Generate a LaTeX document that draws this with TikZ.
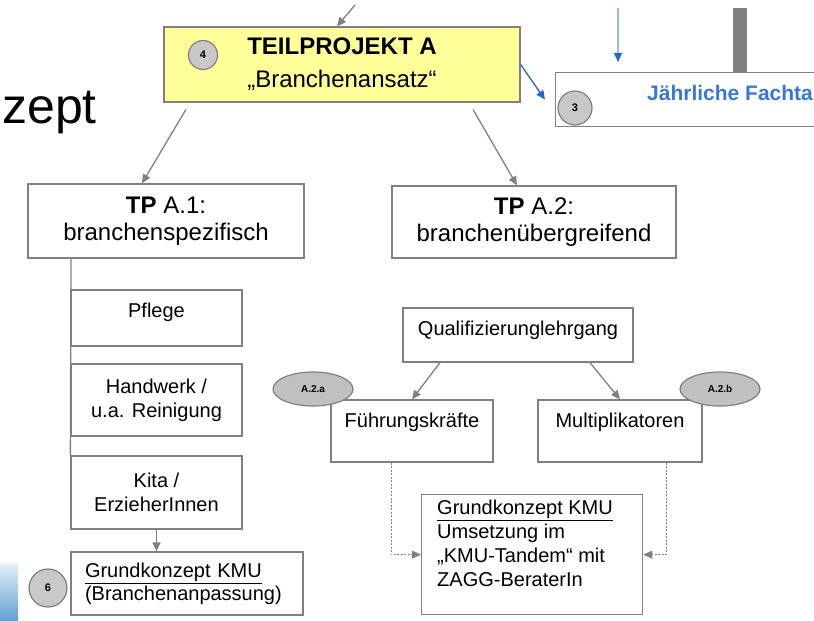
\documentclass[tikz,border=0pt]{standalone}
\usepackage{fontspec}
\setmainfont{Liberation Sans}
\usepackage{tikz}
\usetikzlibrary{arrows.meta,shapes.geometric}
\definecolor{boxgray}{RGB}{128,128,128}
\definecolor{tagfill}{RGB}{192,192,192}
\definecolor{numfill}{RGB}{200,200,200}
\definecolor{tpyellow}{RGB}{255,255,153}
\definecolor{linkblue}{RGB}{30,105,205}
\definecolor{titleblue}{RGB}{55,120,215}
\definecolor{edgeblue}{RGB}{95,160,210}

\begin{document}
\begin{tikzpicture}[
    x=1pt, y=-1pt,
    box/.style={draw=boxgray, line width=1.3pt, rectangle, inner sep=0pt,
      align=center, font=\fontsize{20}{24}\selectfont},
    bigbox/.style={box, font=\fontsize{24}{27}\selectfont},
    toptext/.style={text height=14pt, text depth=#1},
    num/.style={circle, draw=boxgray, line width=1.2pt, fill=numfill,
      inner sep=0pt, font=\bfseries\fontsize{11}{11}\selectfont},
    tag/.style={ellipse, draw=boxgray, line width=1.2pt, fill=tagfill,
      inner sep=0pt, minimum width=80pt, minimum height=34pt,
      font=\bfseries\fontsize{10}{10}\selectfont},
    arr/.style={draw=boxgray, line width=1.3pt, ->, >={Triangle[length=9pt,width=8pt]}},
    bluearr/.style={draw=linkblue, line width=1.3pt, ->, >={Triangle[length=9pt,width=8pt,color=linkblue]}},
    dots/.style={draw=boxgray, line width=0.9pt, dash pattern=on 2pt off 1.5pt,
      ->, >={Triangle[length=9pt,width=8pt]}}
    ]
\useasboundingbox (0,0) rectangle (814,621);
\clip (0,0) rectangle (814,621);

% left border decoration
\shade[top color=edgeblue!15, bottom color=edgeblue] (0,563) rectangle (18,621);
\node[anchor=base west, inner sep=0pt, font=\fontsize{50}{50}\selectfont] (zept) at (2,123) {zept};

% Teilprojekt A
\node[box, fill=tpyellow, minimum width=356pt, minimum height=75pt,
  font=\fontsize{24}{33}\selectfont] (tpA) at (342,64.5) {\textbf{TEILPROJEKT A}\\„Branchenansatz“};
\node[num, minimum size=29pt] (n4) at (203,55) {4};
\coordinate (inA) at (355,5);
\draw[arr] (inA) -- ([xshift=-5pt]tpA.north);

% Fachtagung (cut off at the right)
\fill[boxgray] (733,8) rectangle (747,72);
\node[box, anchor=north west, minimum width=300pt, minimum height=54pt] (fachtag) at (555,72) {};
\node[anchor=base west, inner sep=0pt, text=titleblue,
  font=\bfseries\fontsize{21}{21}\selectfont] (fachtagtext) at (647,100) {Jährliche Fachta};
\node[num, minimum size=34pt] (n3) at (575,108) {3};
\coordinate (inF) at (618,8);
\draw[bluearr, draw=linkblue!45, line width=1.2pt] (inF) -- ([yshift=10pt]fachtag.north -| inF);
\draw[bluearr] (tpA.east) -- ([xshift=-10pt]fachtag.west);

% TP A.1 / A.2
\node[bigbox, minimum width=276pt, minimum height=74pt] (tpA1) at (166,221) {\textbf{TP} A.1:\\branchenspezifisch};
\node[bigbox, minimum width=284pt, minimum height=72pt] (tpA2) at (534,222) {\textbf{TP} A.2:\\branchenübergreifend};
\draw[arr, shorten <=8pt] ([xshift=-152pt]tpA.south) -- ([xshift=-24pt]tpA1.north);
\draw[arr, shorten <=8pt] ([xshift=127pt]tpA.south) -- ([xshift=-17pt]tpA2.north);

% branches
\node[box, minimum width=171pt, minimum height=56pt, toptext=16pt] (pflege) at (156.5,318) {Pflege};
\node[box, minimum width=171pt, minimum height=72pt] (handwerk) at (156.5,400) {Handwerk /\\u.a. Reinigung};
\node[box, minimum width=171pt, minimum height=73pt] (kita) at (156.5,492.5) {Kita /\\ErzieherInnen};
\draw[boxgray, line width=1.3pt] ([xshift=-95pt]tpA1.south) -- (kita.north west);
\node[box, minimum width=232pt, minimum height=63pt, align=left, text width=204pt,
  font=\fontsize{20}{23}\selectfont] (gkL) at (187,583.5) {\underline{Grundkonzept KMU}\\(Branchenanpassung)};
\draw[arr] (kita.south) -- (kita.south |- gkL.north);
\node[num, minimum size=38pt] (n6) at (48,588) {6};

% Qualifizierung
\node[box, minimum width=230pt, minimum height=54pt, toptext=14pt] (qual) at (518,335) {Qualifizierunglehrgang};
\node[box, minimum width=162pt, minimum height=62pt, toptext=22pt] (fuehr) at (412,431) {Führungskräfte};
\node[box, minimum width=164pt, minimum height=62pt, toptext=22pt] (multi) at (620,431) {Multiplikatoren};
\draw[arr] ([xshift=-78pt]qual.south) -- (fuehr.north);
\draw[arr] ([xshift=72pt]qual.south) -- (multi.north);
\node[tag] (tagA) at (313,389) {A.2.a};
\node[tag] (tagB) at (720,389) {A.2.b};

\node[box, anchor=north west, minimum width=221pt, minimum height=120pt] (gkR) at (421,494) {};
\node[anchor=north west, inner sep=0pt, align=left, font=\fontsize{20}{24}\selectfont]
  (gkRtext) at (437,500) {\underline{Grundkonzept KMU}\\Umsetzung im\\„KMU-Tandem“ mit\\ZAGG-BeraterIn};
\draw[dots] ([xshift=-21pt]fuehr.south) |- (gkR.west);
\draw[dots] ([xshift=46pt]multi.south) |- (gkR.east);
\end{tikzpicture}
\end{document}
